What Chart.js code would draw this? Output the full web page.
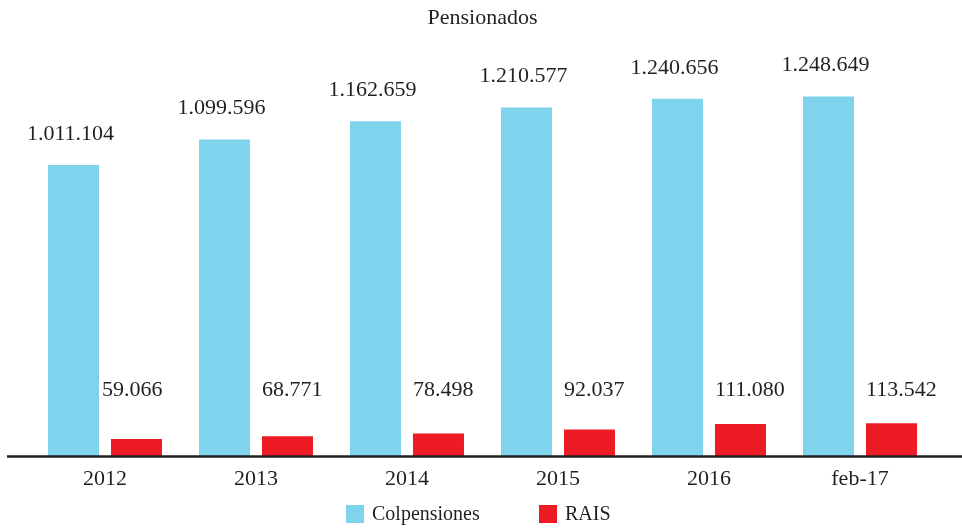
<!DOCTYPE html>
<html>
<head>
<meta charset="utf-8">
<script src="https://cdn.jsdelivr.net/npm/chart.js@4.4.1/dist/chart.umd.min.js"></script>
<style>
  html, body { margin: 0; padding: 0; background: #ffffff; }
  #wrap { position: relative; width: 962px; height: 529px; }
</style>
</head>
<body>
<div id="wrap"><canvas id="c" width="962" height="529"></canvas></div>
<script>
const categories = ['2012', '2013', '2014', '2015', '2016', 'feb-17'];
const colpensiones = [1011104, 1099596, 1162659, 1210577, 1240656, 1248649];
const rais = [59066, 68771, 78498, 92037, 111080, 113542];
const colpensionesLabels = ['1.011.104', '1.099.596', '1.162.659', '1.210.577', '1.240.656', '1.248.649'];
const raisLabels = ['59.066', '68.771', '78.498', '92.037', '111.080', '113.542'];
const seriesNames = ['Colpensiones', 'RAIS'];
const chartTitle = 'Pensionados';

const FONT = '"Liberation Serif", "DejaVu Serif", serif';
const TEXT = '#231f20';
const BLUE = '#7fd3ed';
const RED = '#ed1c24';

const overlay = {
  id: 'overlay',
  afterDatasetsDraw(chart) {
    const ctx = chart.ctx;
    const area = chart.chartArea;
    ctx.save();
    // axis line
    ctx.strokeStyle = TEXT;
    ctx.lineWidth = 2.6;
    ctx.beginPath();
    ctx.moveTo(7, area.bottom + 0.5);
    ctx.lineTo(chart.width, area.bottom + 0.5);
    ctx.stroke();

    // value labels
    ctx.fillStyle = TEXT;
    ctx.font = '22px ' + FONT;
    ctx.textBaseline = 'middle';
    const m0 = chart.getDatasetMeta(0);
    m0.data.forEach((bar, i) => {
      ctx.textAlign = 'center';
      ctx.fillText(colpensionesLabels[i], bar.x - 3, bar.y - 31);
    });
    const m1 = chart.getDatasetMeta(1);
    m1.data.forEach((bar, i) => {
      ctx.textAlign = 'left';
      const left = bar.x - bar.width / 2;
      ctx.fillText(raisLabels[i], i === 0 ? left - 9 : left, area.bottom - 66);
    });

    // legend
    ctx.font = '20px ' + FONT;
    ctx.textAlign = 'left';
    const ly = 514;
    const colors = [BLUE, RED];
    const xs = [346, 539];
    seriesNames.forEach((n, i) => {
      ctx.fillStyle = colors[i];
      ctx.fillRect(xs[i], ly - 9, 18, 18);
      ctx.fillStyle = TEXT;
      ctx.fillText(n, xs[i] + 26, ly + 1);
    });
    ctx.restore();
  }
};

new Chart(document.getElementById('c'), {
  type: 'bar',
  data: {
    labels: categories,
    datasets: [
      { label: seriesNames[0], data: colpensiones, backgroundColor: BLUE, borderWidth: 0,
        categoryPercentage: 0.834, barPercentage: 0.81 },
      { label: seriesNames[1], data: rais, backgroundColor: RED, borderWidth: 0,
        categoryPercentage: 0.834, barPercentage: 0.81 }
    ]
  },
  options: {
    responsive: false,
    animation: false,
    layout: { padding: { left: 29.5, right: 26.5, top: 0, bottom: 26.6 } },
    plugins: {
      legend: { display: false },
      tooltip: { enabled: false },
      title: {
        display: true,
        text: chartTitle,
        color: TEXT,
        font: { family: FONT, size: 22, weight: 'normal' },
        padding: { top: 5, bottom: 21.6 }
      }
    },
    scales: {
      x: {
        grid: { display: false, drawTicks: false },
        border: { display: false },
        ticks: { color: TEXT, font: { family: FONT, size: 22 }, padding: 10 }
      },
      y: {
        display: false,
        min: 0,
        max: 1400000
      }
    }
  },
  plugins: [overlay]
});
</script>
</body>
</html>
